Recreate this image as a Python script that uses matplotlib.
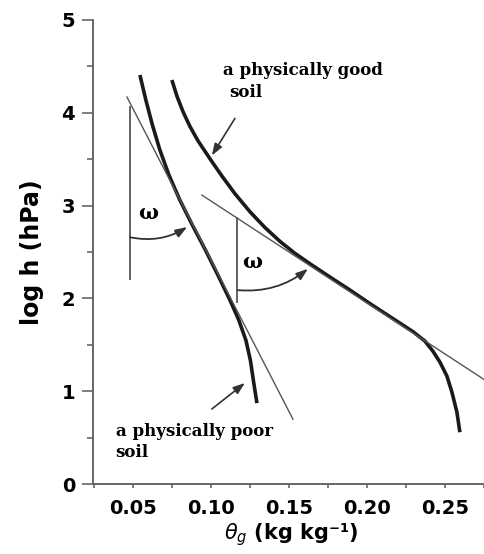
import numpy as np
import matplotlib.pyplot as plt
from matplotlib.ticker import MultipleLocator, FormatStrFormatter

# --- 曲线数据 ---
good_theta = [0.0750, 0.0782, 0.0821, 0.0865, 0.0917, 0.0994, 0.1071, 0.1154,
              0.1250, 0.1346, 0.1442, 0.1538, 0.1635, 0.1763, 0.1891, 0.2019,
              0.2147, 0.2295, 0.2372, 0.2423, 0.2468, 0.2513, 0.2545, 0.2577,
              0.2596]
good_logh = [4.353, 4.181, 4.013, 3.855, 3.699, 3.505, 3.318, 3.129,
             2.935, 2.765, 2.616, 2.487, 2.374, 2.231, 2.091, 1.945,
             1.805, 1.643, 1.541, 1.433, 1.315, 1.164, 0.991, 0.776,
             0.560]

poor_theta = [0.0545, 0.0583, 0.0625, 0.0673, 0.0731, 0.0801, 0.0881, 0.0965,
              0.1045, 0.1122, 0.1179, 0.1224, 0.1253, 0.1272, 0.1295]
poor_logh = [4.407, 4.138, 3.869, 3.599, 3.330, 3.060, 2.791, 2.522,
             2.252, 1.983, 1.767, 1.552, 1.336, 1.121, 0.873]

# 拐点切线
poor_tan_theta = [0.0462, 0.1526]
poor_tan_logh = [4.17, 0.70]
good_tan_theta = [0.0942, 0.2757]
good_tan_logh = [3.114, 1.121]

# 竖直参考线
poor_vert_theta = [0.048, 0.048]
poor_vert_logh = [4.06, 2.21]
good_vert_theta = [0.1167, 0.1167]
good_vert_logh = [2.87, 1.96]

# omega 弧形箭头 (起点, 终点)
omega_arcs = [((0.048, 2.66), (0.0848, 2.77)),
              ((0.1173, 2.09), (0.1622, 2.32))]
omega_pos = [(0.0596, 2.92), (0.1263, 2.39)]

x_major = [0.05, 0.10, 0.15, 0.20, 0.25]
y_major = [0, 1, 2, 3, 4, 5]

fig = plt.figure(figsize=(4.85, 5.54), dpi=100)
ax = fig.add_axes([0.192, 0.126, 0.808, 0.838])

line_c = '#1a1a1a'
thin_c = '#555555'

ax.plot(good_theta, good_logh, color=line_c, lw=2.6, solid_capstyle='butt',
        solid_joinstyle='round')
ax.plot(poor_theta, poor_logh, color=line_c, lw=2.6, solid_capstyle='butt',
        solid_joinstyle='round')
ax.plot(poor_tan_theta, poor_tan_logh, color=thin_c, lw=1.0)
ax.plot(good_tan_theta, good_tan_logh, color=thin_c, lw=1.0)
ax.plot(poor_vert_theta, poor_vert_logh, color=thin_c, lw=1.3)
ax.plot(good_vert_theta, good_vert_logh, color=thin_c, lw=1.3)

for (p0, p1) in omega_arcs:
    ax.annotate('', xy=p1, xytext=p0,
                arrowprops=dict(arrowstyle='-|>,head_length=0.7,head_width=0.25',
                                connectionstyle='arc3,rad=0.2',
                                color='#333333', lw=1.3, shrinkA=0, shrinkB=0))
for (x, y) in omega_pos:
    ax.text(x, y, 'ω', fontsize=15, fontweight='bold', family='DejaVu Serif',
            ha='center', va='center')

# 注释文字与箭头
serif = 'DejaVu Serif'
ax.text(0.1077, 4.41, 'a physically good', fontsize=12, fontweight='bold',
        family=serif, va='baseline')
ax.text(0.1115, 4.17, 'soil', fontsize=12, fontweight='bold',
        family=serif, va='baseline')
ax.annotate('', xy=(0.1006, 3.54), xytext=(0.1154, 3.94),
            arrowprops=dict(arrowstyle='-|>,head_length=0.7,head_width=0.25',
                            color='#333333', lw=1.2, shrinkA=0, shrinkB=0))

ax.text(0.039, 0.52, 'a physically poor', fontsize=12, fontweight='bold',
        family=serif, va='baseline')
ax.text(0.039, 0.29, 'soil', fontsize=12, fontweight='bold',
        family=serif, va='baseline')
ax.annotate('', xy=(0.1218, 1.09), xytext=(0.1006, 0.81),
            arrowprops=dict(arrowstyle='-|>,head_length=0.7,head_width=0.25',
                            color='#333333', lw=1.2, shrinkA=0, shrinkB=0))

# 坐标轴
ax.set_xlim(0.0245, 0.2757)
ax.set_ylim(0, 5)
ax.spines['top'].set_visible(False)
ax.spines['right'].set_visible(False)
for s in ['left', 'bottom']:
    ax.spines[s].set_color('#666666')
    ax.spines[s].set_linewidth(1.4)

ax.set_xticks(x_major)
ax.xaxis.set_major_formatter(FormatStrFormatter('%.2f'))
ax.xaxis.set_minor_locator(MultipleLocator(0.025))
ax.set_yticks(y_major)
ax.yaxis.set_minor_locator(MultipleLocator(0.5))

ax.tick_params(axis='y', which='major', length=8, width=1.2, color='#666666', pad=5)
ax.tick_params(axis='y', which='minor', length=4, width=1.2, color='#666666')
ax.tick_params(axis='x', which='both', length=3, width=1.2, color='#666666', pad=8)
for lab in ax.get_xticklabels() + ax.get_yticklabels():
    lab.set_fontweight('bold')
    lab.set_fontsize(14)
    lab.set_family('DejaVu Sans')

ax.set_ylabel('log h (hPa)', fontsize=17, family='DejaVu Sans', fontweight='semibold')
ax.yaxis.set_label_coords(-0.125, 0.5)
ax.set_xlabel(r'$\theta_g$ (kg kg⁻¹)', fontsize=15, fontweight='bold', family='DejaVu Sans')
plt.rcParams['mathtext.fontset'] = 'dejavuserif'
ax.xaxis.set_label_coords(0.505, -0.08)

plt.savefig('out.png', dpi=100)
